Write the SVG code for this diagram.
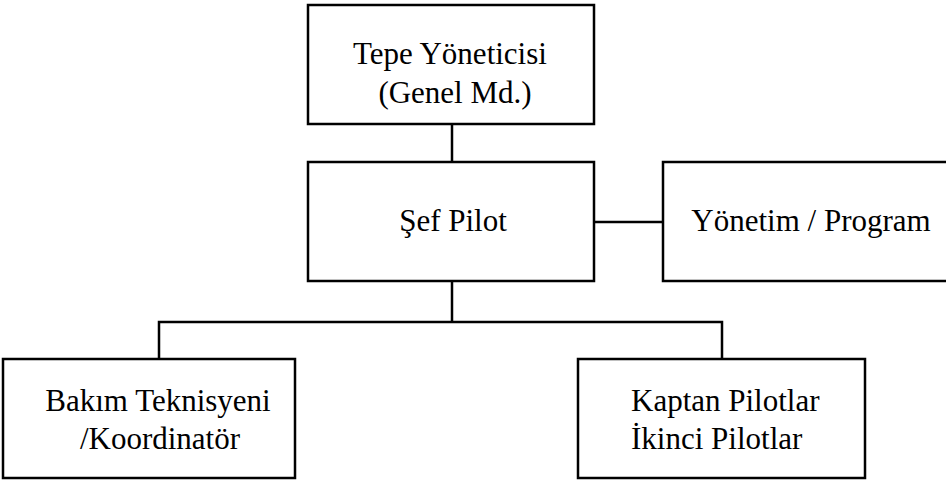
<svg xmlns="http://www.w3.org/2000/svg" width="946" height="481" viewBox="0 0 946 481">
<style>
.box{fill:#fff;stroke:#000;stroke-width:2.5}
.ln{fill:none;stroke:#000;stroke-width:2.5}
text{font-family:'Liberation Serif','Times New Roman',serif;font-size:31px;fill:#000}
.c{text-anchor:middle}
</style>
<rect width="946" height="481" fill="#fff"/>
<g id="connectors">
<line class="ln" x1="452" y1="124" x2="452" y2="162"/>
<line class="ln" x1="594" y1="222" x2="663" y2="222"/>
<line class="ln" x1="452" y1="281" x2="452" y2="322"/>
<polyline class="ln" points="159,359 159,322 722,322 722,359"/>
</g>
<g id="tepe">
<rect class="box" x="308" y="5" width="286" height="119"/>
<text class="c" x="450" y="64">Tepe Yöneticisi</text>
<text class="c" x="455" y="103">(Genel Md.)</text>
</g>
<g id="sef">
<rect class="box" x="308" y="162" width="286" height="119"/>
<text class="c" x="453" y="231">Şef Pilot</text>
</g>
<g id="yonetim">
<rect class="box" x="663" y="162" width="300" height="119"/>
<text class="c" x="811" y="231">Yönetim / Program</text>
</g>
<g id="bakim">
<rect class="box" x="3" y="359" width="292" height="119"/>
<text class="c" x="158" y="411">Bakım Teknisyeni</text>
<text class="c" x="160" y="449">/Koordinatör</text>
</g>
<g id="kaptan">
<rect class="box" x="578" y="359" width="287" height="119"/>
<text x="631" y="411">Kaptan Pilotlar</text>
<text x="631" y="449">İkinci Pilotlar</text>
</g>
</svg>
